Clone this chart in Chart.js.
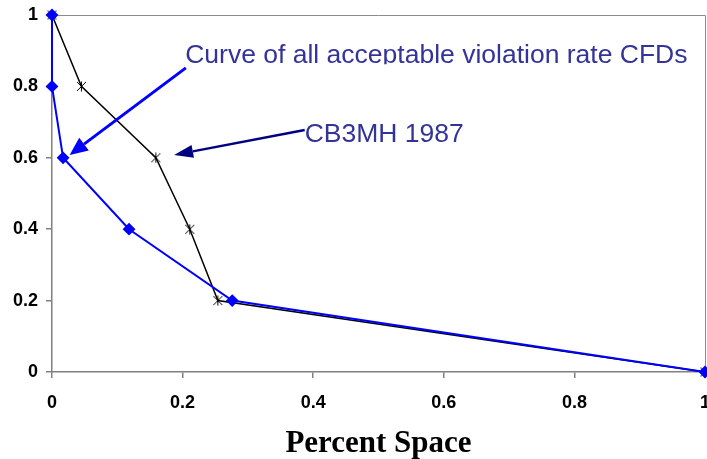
<!DOCTYPE html>
<html>
<head>
<meta charset="utf-8">
<script src="https://cdn.jsdelivr.net/npm/chart.js@4"></script>
<style>
  html, body { margin: 0; padding: 0; background: #fff; }
  canvas { display: block; }
</style>
</head>
<body>
<canvas id="myChart" width="707" height="459"></canvas>
<script>
'use strict'

const xTicks = [0, 0.2, 0.4, 0.6, 0.8, 1]
const yTicks = [0, 0.2, 0.4, 0.6, 0.8, 1]

// CB3MH 1987 curve (black, asterisk markers)
const cb3mhX = [0, 0.045, 0.159, 0.211, 0.254, 1]
const cb3mhY = [1, 0.8, 0.6, 0.4, 0.2, 0]

// curve of all acceptable violation rate CFDs (blue, diamonds)
const curveX = [0, 0, 0.017, 0.118, 0.276, 1]
const curveY = [1, 0.8, 0.6, 0.4, 0.2, 0]

const xTitle = 'Percent Space'
const curveLabel = 'Curve of all acceptable violation rate CFDs'
const cb3mhLabel = 'CB3MH 1987'

const toPoints = (xs, ys) => xs.map((x, i) => ({ x: x, y: ys[i] }))

// excel style asterisk marker
const star = document.createElement('canvas')
star.width = 11
star.height = 11
const sctx = star.getContext('2d')
sctx.strokeStyle = '#000'
sctx.lineWidth = 1
sctx.beginPath()
sctx.moveTo(1, 1); sctx.lineTo(10, 10)
sctx.moveTo(10, 1); sctx.lineTo(1, 10)
sctx.moveTo(5.5, 0.5); sctx.lineTo(5.5, 10.5)
sctx.stroke()

const drawArrow = (ctx, x0, y0, x1, y1, color, width, headLen, headW) => {
  const ang = Math.atan2(y1 - y0, x1 - x0)
  const bx = x1 - Math.cos(ang) * headLen
  const by = y1 - Math.sin(ang) * headLen
  ctx.save()
  ctx.strokeStyle = color
  ctx.fillStyle = color
  ctx.lineWidth = width
  ctx.beginPath()
  ctx.moveTo(x0, y0)
  ctx.lineTo(bx, by)
  ctx.stroke()
  ctx.beginPath()
  ctx.moveTo(x1, y1)
  ctx.lineTo(bx + Math.sin(ang) * headW / 2, by - Math.cos(ang) * headW / 2)
  ctx.lineTo(bx - Math.sin(ang) * headW / 2, by + Math.cos(ang) * headW / 2)
  ctx.closePath()
  ctx.fill()
  ctx.restore()
}

const plotFrame = {
  id: 'plotFrame',
  beforeDatasetsDraw(chart) {
    const { ctx, chartArea: a } = chart
    ctx.save()
    ctx.strokeStyle = '#8c8c8c'
    ctx.lineWidth = 1
    ctx.beginPath()
    ctx.moveTo(a.left, a.top + 0.5)
    ctx.lineTo(a.right + 0.5, a.top + 0.5)
    ctx.lineTo(a.right + 0.5, a.bottom)
    ctx.stroke()
    ctx.restore()
  }
}

const notes = {
  id: 'notes',
  afterDraw(chart) {
    const { ctx, scales: { x, y } } = chart
    ctx.save()
    ctx.fillStyle = '#333399'
    ctx.font = '26.5px "Liberation Sans", Arial, sans-serif'
    ctx.textBaseline = 'alphabetic'
    ctx.textAlign = 'left'
    // first label is cut off just under its baseline
    ctx.save()
    ctx.beginPath()
    ctx.rect(0, 0, chart.width, y.getPixelForValue(0.862))
    ctx.clip()
    ctx.fillText(curveLabel, x.getPixelForValue(0.204), y.getPixelForValue(0.866))
    ctx.restore()
    ctx.fillText(cb3mhLabel, x.getPixelForValue(0.387), y.getPixelForValue(0.644))
    ctx.restore()

    drawArrow(ctx,
      x.getPixelForValue(0.205), y.getPixelForValue(0.852),
      x.getPixelForValue(0.027), y.getPixelForValue(0.608),
      '#0000ff', 3, 18, 16)
    drawArrow(ctx,
      x.getPixelForValue(0.387), y.getPixelForValue(0.678),
      x.getPixelForValue(0.187), y.getPixelForValue(0.608),
      '#000080', 2.5, 19, 13)
  }
}

const ctx = document.getElementById('myChart')

const myChart = new Chart(ctx, {
  type: 'scatter',
  data: {
    datasets: [
      {
        label: curveLabel,
        data: toPoints(curveX, curveY),
        showLine: true,
        borderColor: '#0000ff',
        backgroundColor: '#0000ff',
        borderWidth: 2,
        pointStyle: 'rectRot',
        pointRadius: 5,
        pointHoverRadius: 5,
        clip: false,
        order: 0
      },
      {
        label: cb3mhLabel,
        data: toPoints(cb3mhX, cb3mhY),
        showLine: true,
        borderColor: '#000000',
        backgroundColor: '#000000',
        borderWidth: 1.5,
        pointStyle: star,
        pointRadius: 5,
        clip: false,
        order: 1
      }
    ]
  },
  options: {
    responsive: false,
    animation: false,
    events: [],
    layout: { autoPadding: false, padding: { top: 15, right: 2, left: 0, bottom: 0 } },
    plugins: {
      legend: { display: false },
      tooltip: { enabled: false }
    },
    scales: {
      x: {
        type: 'linear',
        min: 0,
        max: 1,
        afterBuildTicks: (scale) => { scale.ticks = xTicks.map((v) => ({ value: v })) },
        afterFit: (scale) => {
          scale.height = 87
          scale.paddingLeft = 0
          scale.paddingRight = 0
        },
        grid: { drawOnChartArea: false, tickLength: 6, color: '#808080', lineWidth: 1.5 },
        border: { color: '#808080', width: 1.5 },
        ticks: {
          color: '#000',
          padding: 14,
          maxRotation: 0,
          autoSkip: false,
          callback: (v) => String(v),
          font: { family: '"Liberation Sans", Arial, sans-serif', size: 18, weight: 'bold' }
        },
        title: {
          display: true,
          text: xTitle,
          color: '#000',
          padding: { top: 0, bottom: 0 },
          font: { family: '"Liberation Serif", "Times New Roman", serif', size: 31, weight: 'bold', lineHeight: 1 }
        }
      },
      y: {
        type: 'linear',
        min: 0,
        max: 1,
        afterBuildTicks: (scale) => { scale.ticks = yTicks.map((v) => ({ value: v })) },
        afterFit: (scale) => {
          scale.width = 52
          scale.paddingTop = 0
          scale.paddingBottom = 0
        },
        grid: { drawOnChartArea: false, tickLength: 6, color: '#808080', lineWidth: 1.5 },
        border: { color: '#808080', width: 1.5 },
        ticks: {
          color: '#000',
          padding: 8,
          autoSkip: false,
          callback: (v) => String(v),
          font: { family: '"Liberation Sans", Arial, sans-serif', size: 18, weight: 'bold' }
        }
      }
    }
  },
  plugins: [plotFrame, notes]
})
</script>
</body>
</html>
